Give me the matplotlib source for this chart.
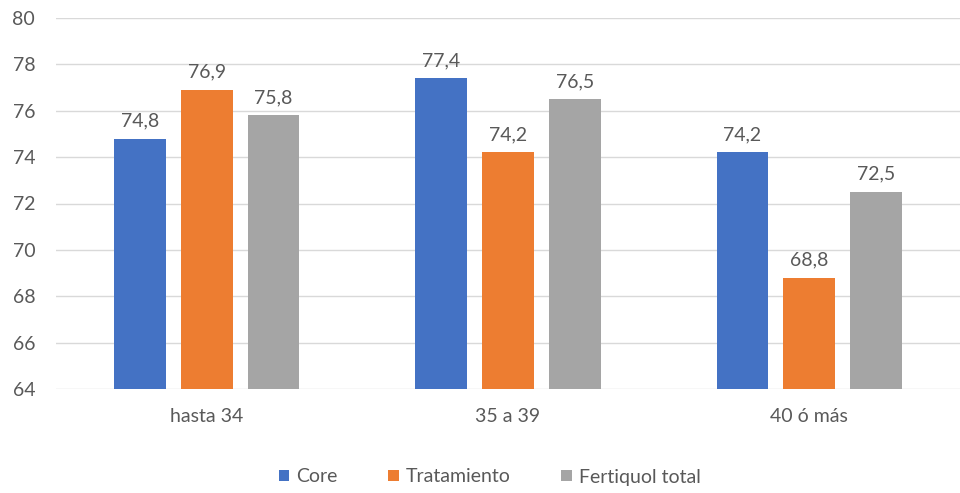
import matplotlib
matplotlib.use('Agg')
import matplotlib.pyplot as plt
import numpy as np

# datos del grafico
categorias = ['hasta 34', '35 a 39', '40 ó más']
series = ['Core', 'Tratamiento', 'Fertiquol total']
core = [74.8, 77.4, 74.2]
tratamiento = [76.9, 74.2, 68.8]
fertiquol = [75.8, 76.5, 72.5]
colores = ['#4472C4', '#ED7D31', '#A5A5A5']

plt.rcParams['font.family'] = ['Lato', 'DejaVu Sans']
gris = '#595959'
tam = 14

fig = plt.figure(figsize=(9.6, 4.93), dpi=100)
ax = fig.add_axes([56 / 960, 1 - 389 / 493, 1 - 56 / 960, (389 - 18) / 493])

x = np.arange(len(categorias))
ancho = 0.172
paso = 0.222
valores = [core, tratamiento, fertiquol]
for i, (nombre, vals, c) in enumerate(zip(series, valores, colores)):
    pos = x + (i - 1) * paso
    ax.bar(pos, vals, width=ancho, color=c, label=nombre, zorder=3)
    for p, v in zip(pos, vals):
        ax.text(p, v + 0.4, f'{v:.1f}'.replace('.', ','), ha='center', va='bottom',
                fontsize=tam, color=gris)

ax.set_ylim(64, 80)
ax.set_xlim(-0.5, 2.5)
ax.set_yticks(np.arange(64, 81, 2))
ax.yaxis.grid(True, color='#D9D9D9', linewidth=1, zorder=0)
for s in ax.spines.values():
    s.set_visible(False)
ax.tick_params(axis='both', length=0, labelsize=tam, labelcolor=gris)
ax.tick_params(axis='y', pad=15)
ax.tick_params(axis='x', pad=14)
ax.set_xticks(x)
ax.set_xticklabels(categorias)

leg = fig.legend(loc='center', bbox_to_anchor=(0.51, 1 - 477 / 493), ncol=3, frameon=False,
                 fontsize=tam, handlelength=0.55, handleheight=0.55, handletextpad=0.35,
                 columnspacing=2.6)
for t in leg.get_texts():
    t.set_color(gris)

fig.savefig('out.png', dpi=100)
